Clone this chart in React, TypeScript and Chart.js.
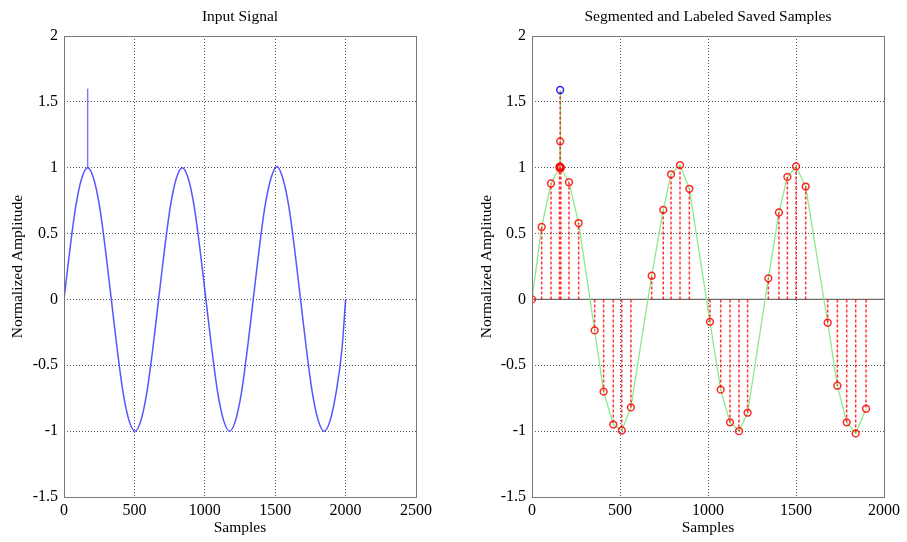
import React, { useEffect, useRef } from "react";
import { Chart, registerables } from "chart.js";

Chart.register(...registerables);

// ---------- Data: Input Signal ----------
const inputX = [0, 42, 84, 126, 168, 210, 252, 294, 336, 378, 420, 462, 504, 546, 588, 630, 672, 714, 756, 798, 840, 882, 924, 966, 1008, 1050, 1092, 1134, 1176, 1218, 1260, 1302, 1344, 1386, 1428, 1470, 1512, 1554, 1596, 1638, 1680, 1722, 1764, 1806, 1848, 1890, 1932, 1974, 2000];
const inputY = [0, 0.38, 0.71, 0.92, 1.0, 0.92, 0.71, 0.38, 0.0, -0.38, -0.71, -0.92, -1.0, -0.92, -0.71, -0.38, 0.0, 0.38, 0.71, 0.92, 1.0, 0.92, 0.71, 0.38, 0.0, -0.38, -0.71, -0.92, -1.0, -0.92, -0.71, -0.38, 0.0, 0.38, 0.71, 0.92, 1.01, 0.92, 0.71, 0.38, 0.0, -0.38, -0.71, -0.92, -1.0, -0.92, -0.71, -0.38, 0.0];
// impulse spike riding on the first peak
const spikeX = [168, 168];
const spikeY = [1.0, 1.6];

// ---------- Data: Segmented and Labeled Saved Samples ----------
const sampleX = [0, 55, 108, 156, 158, 160, 160, 162, 164, 210, 265, 356, 407, 462, 510, 562, 680, 746, 790, 841, 894, 1011, 1072, 1125, 1176, 1225, 1343, 1403, 1451, 1500, 1555, 1680, 1735, 1788, 1839, 1898];
const sampleY = [0, 0.55, 0.88, 1.0, 1.01, 1.2, 1.59, 1.0, 1.0, 0.89, 0.58, -0.235, -0.7, -0.95, -0.995, -0.82, 0.18, 0.68, 0.95, 1.02, 0.84, -0.17, -0.685, -0.933, -1.0, -0.86, 0.16, 0.66, 0.93, 1.01, 0.857, -0.177, -0.655, -0.933, -1.017, -0.83];
// 's' = saved sample (red), 'o' = outlier (blue)
const sampleLabel = ["s", "s", "s", "s", "s", "s", "o", "s", "s", "s", "s", "s", "s", "s", "s", "s", "s", "s", "s", "s", "s", "s", "s", "s", "s", "s", "s", "s", "s", "s", "s", "s", "s", "s", "s", "s"];

const yTicks = [-1.5, -1, -0.5, 0, 0.5, 1, 1.5, 2];
const leftXMax = 2500;
const rightXMax = 2000;

const TITLE_LEFT = "Input Signal";
const TITLE_RIGHT = "Segmented and Labeled Saved Samples";
const X_LABEL = "Samples";
const Y_LABEL = "Normalized Amplitude";

const FONT = "'Liberation Serif', 'Times New Roman', serif";

const framePlugin = {
  id: "frameAndTitles",
  afterDraw(chart: any, _args: any, opts: any) {
    const { ctx, chartArea } = chart;
    const { left, right, top, bottom } = chartArea;
    ctx.save();
    ctx.strokeStyle = "rgb(120,120,120)";
    ctx.lineWidth = 1;
    ctx.setLineDash([]);
    ctx.strokeRect(Math.round(left) + 0.5, Math.round(top) + 0.5, Math.round(right - left), Math.round(bottom - top));
    ctx.fillStyle = "#000";
    ctx.font = `15.5px ${FONT}`;
    ctx.textAlign = "center";
    ctx.textBaseline = "middle";
    ctx.fillText(opts.title, (left + right) / 2, 17);
    ctx.fillText(opts.xLabel, (left + right) / 2, 528);
    ctx.translate(opts.yLabelX, (top + bottom) / 2);
    ctx.rotate(-Math.PI / 2);
    ctx.fillText(opts.yLabel, 0, 0);
    ctx.restore();
  },
};

function makeScales(xMax: number, yAxisWidth: number) {
  return {
    x: {
      type: "linear" as const,
      min: 0,
      max: xMax,
      ticks: {
        stepSize: 500,
        padding: 4,
        color: "#000",
        font: { family: FONT, size: 16 },
        maxRotation: 0,
        callback: (v: any) => String(v),
      },
      grid: { color: "rgba(0,0,0,0.65)", drawTicks: false, lineWidth: 1 },
      border: { display: false, dash: [1, 2] },
      afterFit: (s: any) => {
        s.height = 45;
      },
    },
    y: {
      type: "linear" as const,
      min: -1.5,
      max: 2,
      afterBuildTicks: (s: any) => {
        s.ticks = yTicks.map((v) => ({ value: v }));
      },
      ticks: {
        padding: 6,
        color: "#000",
        font: { family: FONT, size: 16 },
        callback: (v: any) => String(v),
      },
      grid: { color: "rgba(0,0,0,0.65)", drawTicks: false, lineWidth: 1 },
      border: { display: false, dash: [1, 2] },
      afterFit: (s: any) => {
        s.width = yAxisWidth;
      },
    },
  };
}

function LeftChart() {
  const ref = useRef<HTMLCanvasElement>(null);
  useEffect(() => {
    if (!ref.current) return;
    const data = inputX.map((x, i) => ({ x, y: inputY[i] }));
    const spike = spikeX.map((x, i) => ({ x, y: spikeY[i] }));
    const chart = new Chart(ref.current, {
      type: "scatter",
      data: {
        datasets: [
          {
            data,
            showLine: true,
            borderColor: "rgba(30,30,255,0.75)",
            borderWidth: 1.5,
            pointRadius: 0,
            cubicInterpolationMode: "monotone",
          } as any,
          {
            data: spike,
            showLine: true,
            borderColor: "rgba(30,30,255,0.6)",
            borderWidth: 1.4,
            pointRadius: 0,
          } as any,
        ],
      },
      options: {
        responsive: false,
        animation: false,
        layout: { padding: { top: 36, right: 44, bottom: 0, left: 0 } },
        plugins: {
          legend: { display: false },
          tooltip: { enabled: false },
          frameAndTitles: { title: TITLE_LEFT, xLabel: X_LABEL, yLabel: Y_LABEL, yLabelX: 18 },
        } as any,
        scales: makeScales(leftXMax, 64) as any,
      },
      plugins: [framePlugin],
    });
    return () => chart.destroy();
  }, []);
  return <canvas ref={ref} width={460} height={542} style={{ position: "absolute", left: 0, top: 0 }} />;
}

function RightChart() {
  const ref = useRef<HTMLCanvasElement>(null);
  useEffect(() => {
    if (!ref.current) return;
    const all = sampleX.map((x, i) => ({ x, y: sampleY[i] }));
    const saved = all.filter((_, i) => sampleLabel[i] === "s");
    const outliers = all.filter((_, i) => sampleLabel[i] === "o");
    const stems: any[] = [];
    sampleX.forEach((x, i) => {
      stems.push({ x, y: 0 });
      stems.push({ x, y: sampleY[i] });
      stems.push({ x, y: null });
    });
    const chart = new Chart(ref.current, {
      type: "scatter",
      data: {
        datasets: [
          {
            data: saved,
            pointStyle: "circle",
            pointRadius: 3.4,
            pointBorderWidth: 1.5,
            pointBorderColor: "rgba(255,0,0,0.85)",
            pointBackgroundColor: "rgba(0,0,0,0)",
            showLine: false,
            order: 0,
          } as any,
          {
            data: outliers,
            pointStyle: "circle",
            pointRadius: 3.4,
            pointBorderWidth: 1.5,
            pointBorderColor: "rgba(0,0,255,0.85)",
            pointBackgroundColor: "rgba(0,0,0,0)",
            showLine: false,
            order: 0,
          } as any,
          {
            data: stems,
            showLine: true,
            spanGaps: false,
            borderColor: "rgba(255,0,0,0.8)",
            borderWidth: 1.5,
            borderDash: [3, 2],
            pointRadius: 0,
            order: 1,
          } as any,
          {
            data: all,
            showLine: true,
            borderColor: "rgb(140,235,140)",
            borderWidth: 1.3,
            pointRadius: 0,
            order: 2,
          } as any,
          {
            data: [
              { x: 0, y: 0 },
              { x: rightXMax, y: 0 },
            ],
            showLine: true,
            borderColor: "rgb(110,110,110)",
            borderWidth: 1.3,
            pointRadius: 0,
            order: 3,
          } as any,
        ],
      },
      options: {
        responsive: false,
        animation: false,
        layout: { padding: { top: 36, right: 23, bottom: 0, left: 0 } },
        plugins: {
          legend: { display: false },
          tooltip: { enabled: false },
          frameAndTitles: { title: TITLE_RIGHT, xLabel: X_LABEL, yLabel: Y_LABEL, yLabelX: 27 },
        } as any,
        scales: makeScales(rightXMax, 72) as any,
      },
      plugins: [framePlugin],
    });
    return () => chart.destroy();
  }, []);
  return <canvas ref={ref} width={447} height={542} style={{ position: "absolute", left: 460, top: 0 }} />;
}

export default function App() {
  return (
    <div style={{ position: "fixed", left: 0, top: 0, width: 907, height: 542, background: "#fff" }}>
      <LeftChart />
      <RightChart />
    </div>
  );
}
